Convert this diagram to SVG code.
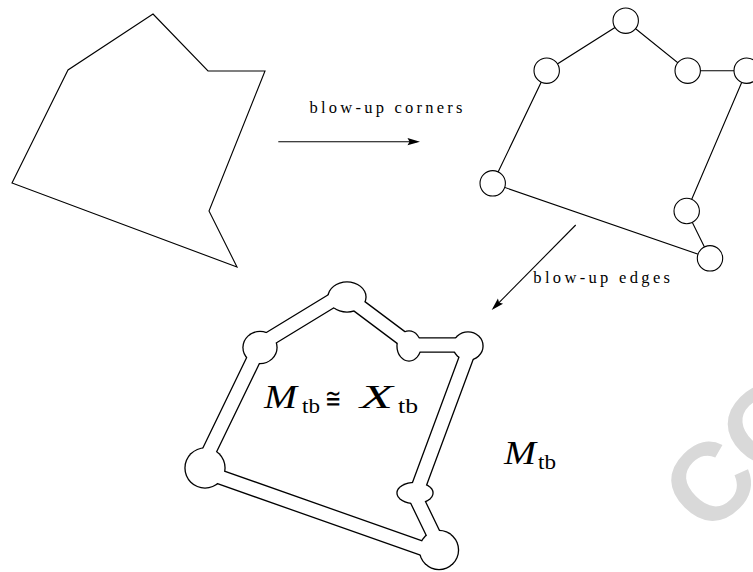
<svg xmlns="http://www.w3.org/2000/svg" width="753" height="572" viewBox="0 0 753 572">
<style>
.ln{fill:none;stroke:#000;stroke-width:1.1;stroke-linejoin:miter}
.nd{fill:#fff;stroke:#000;stroke-width:1.1}
.lbl{font-family:"Liberation Serif",serif;font-size:16.5px;fill:#000}
.mi{font-family:"Liberation Serif",serif;font-style:italic;font-size:33px;fill:#000}
.sb{font-family:"Liberation Serif",serif;font-size:22px;fill:#000}
.wm{font-family:"Liberation Sans",Arial,sans-serif;font-weight:bold;font-size:110px;fill:#d9d9d9}
.bk{fill:none;stroke:#000;stroke-width:15.4;stroke-linejoin:round}
.wh{fill:none;stroke:#fff;stroke-width:12.8;stroke-linejoin:round}
</style>
<defs>
<marker id="ah" markerUnits="userSpaceOnUse" viewBox="-15 -6 18 12" markerWidth="18" markerHeight="12" refX="-3" refY="0" orient="auto">
<path d="M0,0 L-12.5,-3.6 L-10.5,0 L-12.5,3.6 Z" fill="#000"/>
</marker>
</defs>

<g id="watermark">
<text class="wm" transform="translate(708.4,537.7) rotate(-45)" x="0" y="0">CO</text>
</g>

<g id="polygon">
<polygon class="ln" points="153,14 208,71 265,71 209,211 237,267 12,183 68,70"/>
</g>

<g id="blownCorners">
<polygon class="ln" points="625.7,20.7 687.7,70.7 746.7,70.7 686.7,211 710,258.3 492.7,183.3 546.7,70.7"/>
<circle class="nd" cx="625.7" cy="20.7" r="12.7"/>
<circle class="nd" cx="687.7" cy="70.7" r="12.7"/>
<circle class="nd" cx="746.7" cy="70.7" r="12.7"/>
<circle class="nd" cx="686.7" cy="211" r="12.7"/>
<circle class="nd" cx="710" cy="258.3" r="12.7"/>
<circle class="nd" cx="492.7" cy="183.3" r="12.7"/>
<circle class="nd" cx="546.7" cy="70.7" r="12.7"/>
</g>

<g id="blownEdges">
<polygon class="bk" points="343,294 411,345 471,345 415,496 444,556 200,470 261,344"/>
<g fill="#000">
<ellipse cx="347" cy="297" rx="19.7" ry="15.7"/>
<ellipse cx="409" cy="346" rx="12.7" ry="15.7"/>
<ellipse cx="468" cy="346" rx="15.7" ry="14.7"/>
<ellipse cx="415" cy="493" rx="18.7" ry="11.2"/>
<circle cx="439" cy="550" r="20.2"/>
<circle cx="205" cy="468" r="20.7"/>
<ellipse cx="260" cy="347.5" rx="17.7" ry="16.7"/>
</g>
<polygon class="wh" points="343,294 411,345 471,345 415,496 444,556 200,470 261,344"/>
<g fill="#fff">
<ellipse cx="347" cy="297" rx="18.4" ry="14.4"/>
<ellipse cx="409" cy="346" rx="11.4" ry="14.4"/>
<ellipse cx="468" cy="346" rx="14.4" ry="13.4"/>
<ellipse cx="415" cy="493" rx="17.4" ry="9.9"/>
<circle cx="439" cy="550" r="18.9"/>
<circle cx="205" cy="468" r="19.4"/>
<ellipse cx="260" cy="347.5" rx="16.4" ry="15.4"/>
</g>
</g>

<g id="connectors">
<line class="ln" x1="278.3" y1="141.7" x2="417" y2="141.7" marker-end="url(#ah)"/>
<line class="ln" x1="575.7" y1="225" x2="493.8" y2="307.9" marker-end="url(#ah)"/>
</g>

<g id="labels">
<text class="lbl" x="309.5" y="113.3" textLength="153" lengthAdjust="spacing">blow-up corners</text>
<text class="lbl" x="533.3" y="282.7" textLength="136.7" lengthAdjust="spacing">blow-up edges</text>
</g>

<g id="centerLabel">
<text class="mi" x="264" y="408.3" textLength="33" lengthAdjust="spacingAndGlyphs">M</text>
<text class="sb" x="302" y="413.3" textLength="18" lengthAdjust="spacingAndGlyphs">tb</text>
<text x="324.5" y="408" font-family="DejaVu Serif, serif" font-size="28" textLength="16" lengthAdjust="spacingAndGlyphs">≅</text>
<text class="mi" x="360" y="408.3" textLength="33" lengthAdjust="spacingAndGlyphs">X</text>
<text class="sb" x="398" y="413.3" textLength="20" lengthAdjust="spacingAndGlyphs">tb</text>
</g>

<g id="rightLabel">
<text class="mi" x="504" y="464.3" textLength="32" lengthAdjust="spacingAndGlyphs">M</text>
<text class="sb" x="538" y="469.3" textLength="18" lengthAdjust="spacingAndGlyphs">tb</text>
</g>
</svg>
